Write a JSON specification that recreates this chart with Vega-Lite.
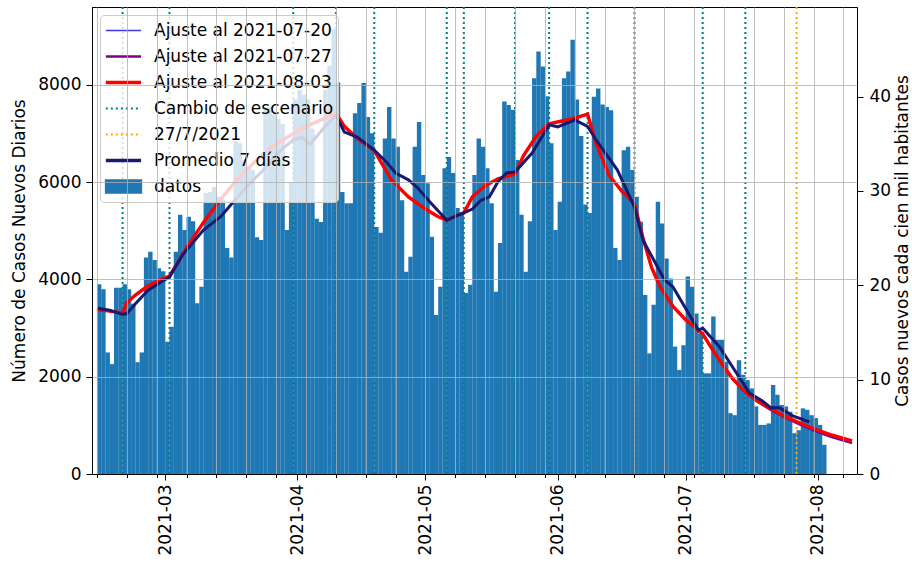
{
  "$schema": "https://vega.github.io/schema/vega-lite/v6.json",
  "width": 765,
  "height": 467,
  "autosize": {"type": "none"},
  "padding": {"left": 92, "top": 7, "right": 55, "bottom": 88},
  "background": "white",
  "config": {
    "font": "DejaVu Sans",
    "view": {"stroke": "#000000", "strokeWidth": 1},
    "axis": {
      "labelFont": "DejaVu Sans", "titleFont": "DejaVu Sans",
      "labelFontSize": 17, "titleFontSize": 17,
      "labelColor": "#000000", "titleColor": "#000000", "titleFontWeight": "normal",
      "domainColor": "#000000", "tickColor": "#000000",
      "gridColor": "#b0b0b0", "gridWidth": 0.8
    },
    "legend": {
      "orient": "none", "legendX": 8, "legendY": 8,
      "fillColor": "rgba(255,255,255,0.8)", "strokeColor": "#cccccc", "cornerRadius": 4,
      "padding": 4.5, "labelFont": "DejaVu Sans", "labelFontSize": 17, "labelColor": "#000000",
      "symbolSize": 484, "clipHeight": 22, "rowPadding": 4, "labelOffset": 32.5, "labelLimit": 400
    }
  },
  "datasets": {
    "barras": [
      {"fecha":"2021-02-13","casos":3900},{"fecha":"2021-02-14","casos":3800},{"fecha":"2021-02-15","casos":2500},{"fecha":"2021-02-16","casos":2260},{"fecha":"2021-02-17","casos":3830},{"fecha":"2021-02-18","casos":3830},{"fecha":"2021-02-19","casos":3900},
      {"fecha":"2021-02-20","casos":3800},{"fecha":"2021-02-21","casos":3500},{"fecha":"2021-02-22","casos":2300},{"fecha":"2021-02-23","casos":2500},{"fecha":"2021-02-24","casos":4450},{"fecha":"2021-02-25","casos":4570},{"fecha":"2021-02-26","casos":4400},
      {"fecha":"2021-02-27","casos":4230},{"fecha":"2021-02-28","casos":4170},{"fecha":"2021-03-01","casos":2720},{"fecha":"2021-03-02","casos":3030},{"fecha":"2021-03-03","casos":4570},{"fecha":"2021-03-04","casos":5330},{"fecha":"2021-03-05","casos":5020},
      {"fecha":"2021-03-06","casos":5290},{"fecha":"2021-03-07","casos":5200},{"fecha":"2021-03-08","casos":3510},{"fecha":"2021-03-09","casos":3850},{"fecha":"2021-03-10","casos":5780},{"fecha":"2021-03-11","casos":5800},{"fecha":"2021-03-12","casos":5900},
      {"fecha":"2021-03-13","casos":5700},{"fecha":"2021-03-14","casos":5650},{"fecha":"2021-03-15","casos":4650},{"fecha":"2021-03-16","casos":4450},{"fecha":"2021-03-17","casos":6850},{"fecha":"2021-03-18","casos":6800},{"fecha":"2021-03-19","casos":6450},
      {"fecha":"2021-03-20","casos":6300},{"fecha":"2021-03-21","casos":6250},{"fecha":"2021-03-22","casos":4870},{"fecha":"2021-03-23","casos":4810},{"fecha":"2021-03-24","casos":7500},{"fecha":"2021-03-25","casos":7550},{"fecha":"2021-03-26","casos":7400},
      {"fecha":"2021-03-27","casos":7300},{"fecha":"2021-03-28","casos":7200},{"fecha":"2021-03-29","casos":5020},{"fecha":"2021-03-30","casos":6000},{"fecha":"2021-03-31","casos":7700},{"fecha":"2021-04-01","casos":7900},{"fecha":"2021-04-02","casos":7800},
      {"fecha":"2021-04-03","casos":7700},{"fecha":"2021-04-04","casos":7100},{"fecha":"2021-04-05","casos":5250},{"fecha":"2021-04-06","casos":5180},{"fecha":"2021-04-07","casos":7900},{"fecha":"2021-04-08","casos":8400},{"fecha":"2021-04-09","casos":9150},
      {"fecha":"2021-04-10","casos":8050},{"fecha":"2021-04-11","casos":5800},{"fecha":"2021-04-12","casos":5570},{"fecha":"2021-04-13","casos":5570},{"fecha":"2021-04-14","casos":7420},{"fecha":"2021-04-15","casos":7630},{"fecha":"2021-04-16","casos":8040},
      {"fecha":"2021-04-17","casos":7340},{"fecha":"2021-04-18","casos":7010},{"fecha":"2021-04-19","casos":5080},{"fecha":"2021-04-20","casos":4960},{"fecha":"2021-04-21","casos":6900},{"fecha":"2021-04-22","casos":7550},{"fecha":"2021-04-23","casos":6900},
      {"fecha":"2021-04-24","casos":6730},{"fecha":"2021-04-25","casos":5630},{"fecha":"2021-04-26","casos":4160},{"fecha":"2021-04-27","casos":4470},{"fecha":"2021-04-28","casos":6730},{"fecha":"2021-04-29","casos":7240},{"fecha":"2021-04-30","casos":6150},
      {"fecha":"2021-05-01","casos":5980},{"fecha":"2021-05-02","casos":4880},{"fecha":"2021-05-03","casos":3270},{"fecha":"2021-05-04","casos":3850},{"fecha":"2021-05-05","casos":6290},{"fecha":"2021-05-06","casos":6520},{"fecha":"2021-05-07","casos":6190},
      {"fecha":"2021-05-08","casos":5470},{"fecha":"2021-05-09","casos":5390},{"fecha":"2021-05-10","casos":3720},{"fecha":"2021-05-11","casos":3890},{"fecha":"2021-05-12","casos":6150},{"fecha":"2021-05-13","casos":6900},{"fecha":"2021-05-14","casos":6730},
      {"fecha":"2021-05-15","casos":6290},{"fecha":"2021-05-16","casos":5570},{"fecha":"2021-05-17","casos":3750},{"fecha":"2021-05-18","casos":4750},{"fecha":"2021-05-19","casos":7660},{"fecha":"2021-05-20","casos":7590},{"fecha":"2021-05-21","casos":7490},
      {"fecha":"2021-05-22","casos":6460},{"fecha":"2021-05-23","casos":5330},{"fecha":"2021-05-24","casos":4160},{"fecha":"2021-05-25","casos":5200},{"fecha":"2021-05-26","casos":8140},{"fecha":"2021-05-27","casos":8690},{"fecha":"2021-05-28","casos":8380},
      {"fecha":"2021-05-29","casos":7770},{"fecha":"2021-05-30","casos":6800},{"fecha":"2021-05-31","casos":5020},{"fecha":"2021-06-01","casos":5600},{"fecha":"2021-06-02","casos":8140},{"fecha":"2021-06-03","casos":8280},{"fecha":"2021-06-04","casos":8930},
      {"fecha":"2021-06-05","casos":7700},{"fecha":"2021-06-06","casos":6950},{"fecha":"2021-06-07","casos":5540},{"fecha":"2021-06-08","casos":5370},{"fecha":"2021-06-09","casos":7760},{"fecha":"2021-06-10","casos":7930},{"fecha":"2021-06-11","casos":7600},
      {"fecha":"2021-06-12","casos":7550},{"fecha":"2021-06-13","casos":7480},{"fecha":"2021-06-14","casos":4650},{"fecha":"2021-06-15","casos":4400},{"fecha":"2021-06-16","casos":6660},{"fecha":"2021-06-17","casos":6730},{"fecha":"2021-06-18","casos":6250},
      {"fecha":"2021-06-19","casos":5700},{"fecha":"2021-06-20","casos":5190},{"fecha":"2021-06-21","casos":3680},{"fecha":"2021-06-22","casos":2480},{"fecha":"2021-06-23","casos":3480},{"fecha":"2021-06-24","casos":5600},{"fecha":"2021-06-25","casos":5150},
      {"fecha":"2021-06-26","casos":4430},{"fecha":"2021-06-27","casos":4020},{"fecha":"2021-06-28","casos":2620},{"fecha":"2021-06-29","casos":2140},{"fecha":"2021-06-30","casos":2650},{"fecha":"2021-07-01","casos":4060},{"fecha":"2021-07-02","casos":3850},
      {"fecha":"2021-07-03","casos":3300},{"fecha":"2021-07-04","casos":2890},{"fecha":"2021-07-05","casos":2070},{"fecha":"2021-07-06","casos":2070},{"fecha":"2021-07-07","casos":3240},{"fecha":"2021-07-08","casos":2760},{"fecha":"2021-07-09","casos":2760},
      {"fecha":"2021-07-10","casos":2310},{"fecha":"2021-07-11","casos":1250},{"fecha":"2021-07-12","casos":1210},{"fecha":"2021-07-13","casos":2340},{"fecha":"2021-07-14","casos":2040},{"fecha":"2021-07-15","casos":1930},{"fecha":"2021-07-16","casos":1760},
      {"fecha":"2021-07-17","casos":1390},{"fecha":"2021-07-18","casos":1010},{"fecha":"2021-07-19","casos":1010},{"fecha":"2021-07-20","casos":1040},{"fecha":"2021-07-21","casos":1830},{"fecha":"2021-07-22","casos":1630},{"fecha":"2021-07-23","casos":1420},
      {"fecha":"2021-07-24","casos":1390},{"fecha":"2021-07-25","casos":1280},{"fecha":"2021-07-26","casos":840},{"fecha":"2021-07-27","casos":900},{"fecha":"2021-07-28","casos":1350},{"fecha":"2021-07-29","casos":1320},{"fecha":"2021-07-30","casos":1210},
      {"fecha":"2021-07-31","casos":1150},{"fecha":"2021-08-01","casos":1010},{"fecha":"2021-08-02","casos":600}
    ],
    "cambios": [
      {"fecha":"2021-02-19","serie":"Cambio de escenario"},{"fecha":"2021-03-02","serie":"Cambio de escenario"},{"fecha":"2021-03-31","serie":"Cambio de escenario"},
      {"fecha":"2021-04-10","serie":"Cambio de escenario"},{"fecha":"2021-04-19","serie":"Cambio de escenario"},{"fecha":"2021-05-06","serie":"Cambio de escenario"},
      {"fecha":"2021-05-10","serie":"Cambio de escenario"},{"fecha":"2021-05-22","serie":"Cambio de escenario"},{"fecha":"2021-05-30","serie":"Cambio de escenario"},
      {"fecha":"2021-06-08","serie":"Cambio de escenario"},{"fecha":"2021-06-19","serie":"Cambio de escenario"},{"fecha":"2021-07-05","serie":"Cambio de escenario"},
      {"fecha":"2021-07-15","serie":"Cambio de escenario"},{"fecha":"2021-07-27","serie":"27/7/2021"}
    ],
    "promedio": [
      {"fecha":"2021-02-13","valor":3410},{"fecha":"2021-02-16","valor":3370},{"fecha":"2021-02-19","valor":3280},{"fecha":"2021-02-20","valor":3300},{"fecha":"2021-02-22","valor":3500},
      {"fecha":"2021-02-25","valor":3780},{"fecha":"2021-02-28","valor":3950},{"fecha":"2021-03-02","valor":4050},{"fecha":"2021-03-05","valor":4500},{"fecha":"2021-03-10","valor":5020},
      {"fecha":"2021-03-14","valor":5290},{"fecha":"2021-03-17","valor":5600},{"fecha":"2021-03-20","valor":5900},{"fecha":"2021-03-24","valor":6250},{"fecha":"2021-03-28","valor":6650},
      {"fecha":"2021-03-31","valor":6870},{"fecha":"2021-04-02","valor":6920},{"fecha":"2021-04-04","valor":6780},{"fecha":"2021-04-07","valor":7100},{"fecha":"2021-04-10","valor":7380},
      {"fecha":"2021-04-12","valor":7030},{"fecha":"2021-04-15","valor":6930},{"fecha":"2021-04-19","valor":6660},{"fecha":"2021-04-22","valor":6400},{"fecha":"2021-04-24","valor":6190},
      {"fecha":"2021-04-27","valor":6050},{"fecha":"2021-04-29","valor":5900},{"fecha":"2021-05-02","valor":5600},{"fecha":"2021-05-06","valor":5220},{"fecha":"2021-05-08","valor":5300},
      {"fecha":"2021-05-10","valor":5370},{"fecha":"2021-05-12","valor":5450},{"fecha":"2021-05-14","valor":5630},{"fecha":"2021-05-16","valor":5700},{"fecha":"2021-05-18","valor":6010},
      {"fecha":"2021-05-20","valor":6190},{"fecha":"2021-05-22","valor":6210},{"fecha":"2021-05-26","valor":6600},{"fecha":"2021-05-30","valor":7180},{"fecha":"2021-06-01","valor":7140},
      {"fecha":"2021-06-05","valor":7280},{"fecha":"2021-06-08","valor":7150},{"fecha":"2021-06-10","valor":6870},{"fecha":"2021-06-15","valor":6250},{"fecha":"2021-06-19","valor":5490},
      {"fecha":"2021-06-21","valor":4810},{"fecha":"2021-06-26","valor":4000},{"fecha":"2021-06-28","valor":3850},{"fecha":"2021-07-04","valor":2960},{"fecha":"2021-07-05","valor":3000},
      {"fecha":"2021-07-09","valor":2610},{"fecha":"2021-07-12","valor":2200},{"fecha":"2021-07-16","valor":1660},{"fecha":"2021-07-19","valor":1500},{"fecha":"2021-07-21","valor":1360},
      {"fecha":"2021-07-23","valor":1360},{"fecha":"2021-07-26","valor":1200},{"fecha":"2021-07-30","valor":1070}
    ],
    "ajustes": [
      {"serie":"Ajuste al 2021-07-20","fecha":"2021-02-13","valor":3380},{"serie":"Ajuste al 2021-07-20","fecha":"2021-02-16","valor":3350},{"serie":"Ajuste al 2021-07-20","fecha":"2021-02-19","valor":3310},{"serie":"Ajuste al 2021-07-20","fecha":"2021-02-20","valor":3520},
      {"serie":"Ajuste al 2021-07-20","fecha":"2021-02-22","valor":3680},{"serie":"Ajuste al 2021-07-20","fecha":"2021-02-25","valor":3870},{"serie":"Ajuste al 2021-07-20","fecha":"2021-02-28","valor":4000},{"serie":"Ajuste al 2021-07-20","fecha":"2021-03-02","valor":4070},
      {"serie":"Ajuste al 2021-07-20","fecha":"2021-03-06","valor":4650},{"serie":"Ajuste al 2021-07-20","fecha":"2021-03-10","valor":5180},{"serie":"Ajuste al 2021-07-20","fecha":"2021-03-14","valor":5650},{"serie":"Ajuste al 2021-07-20","fecha":"2021-03-18","valor":6070},
      {"serie":"Ajuste al 2021-07-20","fecha":"2021-03-22","valor":6420},{"serie":"Ajuste al 2021-07-20","fecha":"2021-03-26","valor":6730},{"serie":"Ajuste al 2021-07-20","fecha":"2021-03-31","valor":7000},{"serie":"Ajuste al 2021-07-20","fecha":"2021-04-03","valor":7150},
      {"serie":"Ajuste al 2021-07-20","fecha":"2021-04-07","valor":7300},{"serie":"Ajuste al 2021-07-20","fecha":"2021-04-10","valor":7420},{"serie":"Ajuste al 2021-07-20","fecha":"2021-04-12","valor":7150},{"serie":"Ajuste al 2021-07-20","fecha":"2021-04-15","valor":6900},
      {"serie":"Ajuste al 2021-07-20","fecha":"2021-04-19","valor":6650},{"serie":"Ajuste al 2021-07-20","fecha":"2021-04-23","valor":6050},{"serie":"Ajuste al 2021-07-20","fecha":"2021-04-27","valor":5700},{"serie":"Ajuste al 2021-07-20","fecha":"2021-05-01","valor":5450},
      {"serie":"Ajuste al 2021-07-20","fecha":"2021-05-04","valor":5290},{"serie":"Ajuste al 2021-07-20","fecha":"2021-05-06","valor":5220},{"serie":"Ajuste al 2021-07-20","fecha":"2021-05-08","valor":5300},{"serie":"Ajuste al 2021-07-20","fecha":"2021-05-10","valor":5370},
      {"serie":"Ajuste al 2021-07-20","fecha":"2021-05-12","valor":5700},{"serie":"Ajuste al 2021-07-20","fecha":"2021-05-15","valor":5930},{"serie":"Ajuste al 2021-07-20","fecha":"2021-05-18","valor":6070},{"serie":"Ajuste al 2021-07-20","fecha":"2021-05-22","valor":6170},
      {"serie":"Ajuste al 2021-07-20","fecha":"2021-05-24","valor":6550},{"serie":"Ajuste al 2021-07-20","fecha":"2021-05-27","valor":6950},{"serie":"Ajuste al 2021-07-20","fecha":"2021-05-30","valor":7200},{"serie":"Ajuste al 2021-07-20","fecha":"2021-06-02","valor":7260},
      {"serie":"Ajuste al 2021-07-20","fecha":"2021-06-05","valor":7320},{"serie":"Ajuste al 2021-07-20","fecha":"2021-06-08","valor":7400},{"serie":"Ajuste al 2021-07-20","fecha":"2021-06-10","valor":6800},{"serie":"Ajuste al 2021-07-20","fecha":"2021-06-13","valor":6150},
      {"serie":"Ajuste al 2021-07-20","fecha":"2021-06-16","valor":5820},{"serie":"Ajuste al 2021-07-20","fecha":"2021-06-19","valor":5560},{"serie":"Ajuste al 2021-07-20","fecha":"2021-06-21","valor":4850},{"serie":"Ajuste al 2021-07-20","fecha":"2021-06-23","valor":4250},
      {"serie":"Ajuste al 2021-07-20","fecha":"2021-06-25","valor":3850},{"serie":"Ajuste al 2021-07-20","fecha":"2021-06-28","valor":3450},{"serie":"Ajuste al 2021-07-20","fecha":"2021-07-01","valor":3170},{"serie":"Ajuste al 2021-07-20","fecha":"2021-07-05","valor":2880},
      {"serie":"Ajuste al 2021-07-20","fecha":"2021-07-07","valor":2600},{"serie":"Ajuste al 2021-07-20","fecha":"2021-07-09","valor":2330},{"serie":"Ajuste al 2021-07-20","fecha":"2021-07-12","valor":1960},{"serie":"Ajuste al 2021-07-20","fecha":"2021-07-15","valor":1680},
      {"serie":"Ajuste al 2021-07-20","fecha":"2021-07-18","valor":1470},{"serie":"Ajuste al 2021-07-20","fecha":"2021-07-21","valor":1305},{"serie":"Ajuste al 2021-07-20","fecha":"2021-07-24","valor":1165},{"serie":"Ajuste al 2021-07-20","fecha":"2021-07-27","valor":1035},
      {"serie":"Ajuste al 2021-07-20","fecha":"2021-07-31","valor":880},{"serie":"Ajuste al 2021-07-20","fecha":"2021-08-04","valor":755},{"serie":"Ajuste al 2021-07-20","fecha":"2021-08-09","valor":625},

      {"serie":"Ajuste al 2021-07-27","fecha":"2021-02-13","valor":3380},{"serie":"Ajuste al 2021-07-27","fecha":"2021-02-16","valor":3350},{"serie":"Ajuste al 2021-07-27","fecha":"2021-02-19","valor":3310},{"serie":"Ajuste al 2021-07-27","fecha":"2021-02-20","valor":3520},
      {"serie":"Ajuste al 2021-07-27","fecha":"2021-02-22","valor":3680},{"serie":"Ajuste al 2021-07-27","fecha":"2021-02-25","valor":3870},{"serie":"Ajuste al 2021-07-27","fecha":"2021-02-28","valor":4000},{"serie":"Ajuste al 2021-07-27","fecha":"2021-03-02","valor":4070},
      {"serie":"Ajuste al 2021-07-27","fecha":"2021-03-06","valor":4650},{"serie":"Ajuste al 2021-07-27","fecha":"2021-03-10","valor":5180},{"serie":"Ajuste al 2021-07-27","fecha":"2021-03-14","valor":5650},{"serie":"Ajuste al 2021-07-27","fecha":"2021-03-18","valor":6070},
      {"serie":"Ajuste al 2021-07-27","fecha":"2021-03-22","valor":6420},{"serie":"Ajuste al 2021-07-27","fecha":"2021-03-26","valor":6730},{"serie":"Ajuste al 2021-07-27","fecha":"2021-03-31","valor":7000},{"serie":"Ajuste al 2021-07-27","fecha":"2021-04-03","valor":7150},
      {"serie":"Ajuste al 2021-07-27","fecha":"2021-04-07","valor":7300},{"serie":"Ajuste al 2021-07-27","fecha":"2021-04-10","valor":7420},{"serie":"Ajuste al 2021-07-27","fecha":"2021-04-12","valor":7150},{"serie":"Ajuste al 2021-07-27","fecha":"2021-04-15","valor":6900},
      {"serie":"Ajuste al 2021-07-27","fecha":"2021-04-19","valor":6650},{"serie":"Ajuste al 2021-07-27","fecha":"2021-04-23","valor":6050},{"serie":"Ajuste al 2021-07-27","fecha":"2021-04-27","valor":5700},{"serie":"Ajuste al 2021-07-27","fecha":"2021-05-01","valor":5450},
      {"serie":"Ajuste al 2021-07-27","fecha":"2021-05-04","valor":5290},{"serie":"Ajuste al 2021-07-27","fecha":"2021-05-06","valor":5220},{"serie":"Ajuste al 2021-07-27","fecha":"2021-05-08","valor":5300},{"serie":"Ajuste al 2021-07-27","fecha":"2021-05-10","valor":5370},
      {"serie":"Ajuste al 2021-07-27","fecha":"2021-05-12","valor":5700},{"serie":"Ajuste al 2021-07-27","fecha":"2021-05-15","valor":5930},{"serie":"Ajuste al 2021-07-27","fecha":"2021-05-18","valor":6070},{"serie":"Ajuste al 2021-07-27","fecha":"2021-05-22","valor":6170},
      {"serie":"Ajuste al 2021-07-27","fecha":"2021-05-24","valor":6550},{"serie":"Ajuste al 2021-07-27","fecha":"2021-05-27","valor":6950},{"serie":"Ajuste al 2021-07-27","fecha":"2021-05-30","valor":7200},{"serie":"Ajuste al 2021-07-27","fecha":"2021-06-02","valor":7260},
      {"serie":"Ajuste al 2021-07-27","fecha":"2021-06-05","valor":7320},{"serie":"Ajuste al 2021-07-27","fecha":"2021-06-08","valor":7400},{"serie":"Ajuste al 2021-07-27","fecha":"2021-06-10","valor":6800},{"serie":"Ajuste al 2021-07-27","fecha":"2021-06-13","valor":6150},
      {"serie":"Ajuste al 2021-07-27","fecha":"2021-06-16","valor":5820},{"serie":"Ajuste al 2021-07-27","fecha":"2021-06-19","valor":5560},{"serie":"Ajuste al 2021-07-27","fecha":"2021-06-21","valor":4850},{"serie":"Ajuste al 2021-07-27","fecha":"2021-06-23","valor":4250},
      {"serie":"Ajuste al 2021-07-27","fecha":"2021-06-25","valor":3850},{"serie":"Ajuste al 2021-07-27","fecha":"2021-06-28","valor":3450},{"serie":"Ajuste al 2021-07-27","fecha":"2021-07-01","valor":3170},{"serie":"Ajuste al 2021-07-27","fecha":"2021-07-05","valor":2880},
      {"serie":"Ajuste al 2021-07-27","fecha":"2021-07-07","valor":2600},{"serie":"Ajuste al 2021-07-27","fecha":"2021-07-09","valor":2330},{"serie":"Ajuste al 2021-07-27","fecha":"2021-07-12","valor":1960},{"serie":"Ajuste al 2021-07-27","fecha":"2021-07-15","valor":1680},
      {"serie":"Ajuste al 2021-07-27","fecha":"2021-07-18","valor":1480},{"serie":"Ajuste al 2021-07-27","fecha":"2021-07-21","valor":1320},{"serie":"Ajuste al 2021-07-27","fecha":"2021-07-24","valor":1180},{"serie":"Ajuste al 2021-07-27","fecha":"2021-07-27","valor":1055},
      {"serie":"Ajuste al 2021-07-27","fecha":"2021-07-31","valor":900},{"serie":"Ajuste al 2021-07-27","fecha":"2021-08-04","valor":775},{"serie":"Ajuste al 2021-07-27","fecha":"2021-08-09","valor":645},

      {"serie":"Ajuste al 2021-08-03","fecha":"2021-02-13","valor":3380},{"serie":"Ajuste al 2021-08-03","fecha":"2021-02-16","valor":3350},{"serie":"Ajuste al 2021-08-03","fecha":"2021-02-19","valor":3310},{"serie":"Ajuste al 2021-08-03","fecha":"2021-02-20","valor":3520},
      {"serie":"Ajuste al 2021-08-03","fecha":"2021-02-22","valor":3680},{"serie":"Ajuste al 2021-08-03","fecha":"2021-02-25","valor":3870},{"serie":"Ajuste al 2021-08-03","fecha":"2021-02-28","valor":4000},{"serie":"Ajuste al 2021-08-03","fecha":"2021-03-02","valor":4070},
      {"serie":"Ajuste al 2021-08-03","fecha":"2021-03-06","valor":4650},{"serie":"Ajuste al 2021-08-03","fecha":"2021-03-10","valor":5180},{"serie":"Ajuste al 2021-08-03","fecha":"2021-03-14","valor":5650},{"serie":"Ajuste al 2021-08-03","fecha":"2021-03-18","valor":6070},
      {"serie":"Ajuste al 2021-08-03","fecha":"2021-03-22","valor":6420},{"serie":"Ajuste al 2021-08-03","fecha":"2021-03-26","valor":6730},{"serie":"Ajuste al 2021-08-03","fecha":"2021-03-31","valor":7000},{"serie":"Ajuste al 2021-08-03","fecha":"2021-04-03","valor":7150},
      {"serie":"Ajuste al 2021-08-03","fecha":"2021-04-07","valor":7300},{"serie":"Ajuste al 2021-08-03","fecha":"2021-04-10","valor":7420},{"serie":"Ajuste al 2021-08-03","fecha":"2021-04-12","valor":7150},{"serie":"Ajuste al 2021-08-03","fecha":"2021-04-15","valor":6900},
      {"serie":"Ajuste al 2021-08-03","fecha":"2021-04-19","valor":6650},{"serie":"Ajuste al 2021-08-03","fecha":"2021-04-23","valor":6050},{"serie":"Ajuste al 2021-08-03","fecha":"2021-04-27","valor":5700},{"serie":"Ajuste al 2021-08-03","fecha":"2021-05-01","valor":5450},
      {"serie":"Ajuste al 2021-08-03","fecha":"2021-05-04","valor":5290},{"serie":"Ajuste al 2021-08-03","fecha":"2021-05-06","valor":5220},{"serie":"Ajuste al 2021-08-03","fecha":"2021-05-08","valor":5300},{"serie":"Ajuste al 2021-08-03","fecha":"2021-05-10","valor":5370},
      {"serie":"Ajuste al 2021-08-03","fecha":"2021-05-12","valor":5700},{"serie":"Ajuste al 2021-08-03","fecha":"2021-05-15","valor":5930},{"serie":"Ajuste al 2021-08-03","fecha":"2021-05-18","valor":6070},{"serie":"Ajuste al 2021-08-03","fecha":"2021-05-22","valor":6170},
      {"serie":"Ajuste al 2021-08-03","fecha":"2021-05-24","valor":6550},{"serie":"Ajuste al 2021-08-03","fecha":"2021-05-27","valor":6950},{"serie":"Ajuste al 2021-08-03","fecha":"2021-05-30","valor":7200},{"serie":"Ajuste al 2021-08-03","fecha":"2021-06-02","valor":7260},
      {"serie":"Ajuste al 2021-08-03","fecha":"2021-06-05","valor":7320},{"serie":"Ajuste al 2021-08-03","fecha":"2021-06-08","valor":7400},{"serie":"Ajuste al 2021-08-03","fecha":"2021-06-10","valor":6800},{"serie":"Ajuste al 2021-08-03","fecha":"2021-06-13","valor":6150},
      {"serie":"Ajuste al 2021-08-03","fecha":"2021-06-16","valor":5820},{"serie":"Ajuste al 2021-08-03","fecha":"2021-06-19","valor":5560},{"serie":"Ajuste al 2021-08-03","fecha":"2021-06-21","valor":4850},{"serie":"Ajuste al 2021-08-03","fecha":"2021-06-23","valor":4250},
      {"serie":"Ajuste al 2021-08-03","fecha":"2021-06-25","valor":3850},{"serie":"Ajuste al 2021-08-03","fecha":"2021-06-28","valor":3450},{"serie":"Ajuste al 2021-08-03","fecha":"2021-07-01","valor":3170},{"serie":"Ajuste al 2021-08-03","fecha":"2021-07-05","valor":2880},
      {"serie":"Ajuste al 2021-08-03","fecha":"2021-07-07","valor":2600},{"serie":"Ajuste al 2021-08-03","fecha":"2021-07-09","valor":2330},{"serie":"Ajuste al 2021-08-03","fecha":"2021-07-12","valor":1960},{"serie":"Ajuste al 2021-08-03","fecha":"2021-07-15","valor":1680},
      {"serie":"Ajuste al 2021-08-03","fecha":"2021-07-18","valor":1490},{"serie":"Ajuste al 2021-08-03","fecha":"2021-07-21","valor":1340},{"serie":"Ajuste al 2021-08-03","fecha":"2021-07-24","valor":1200},{"serie":"Ajuste al 2021-08-03","fecha":"2021-07-27","valor":1080},
      {"serie":"Ajuste al 2021-08-03","fecha":"2021-07-31","valor":930},{"serie":"Ajuste al 2021-08-03","fecha":"2021-08-04","valor":810},{"serie":"Ajuste al 2021-08-03","fecha":"2021-08-09","valor":680}
    ]
  },
  "layer": [
    {
      "layer": [
        {
          "data": {"name": "barras"},
          "mark": {"type": "bar", "width": 4.4, "xOffset": 2.16, "clip": true},
          "encoding": {
            "x": {"field": "fecha", "type": "temporal",
              "scale": {"type": "utc", "domain": [{"year":2021,"month":2,"date":13,"utc":true},{"year":2021,"month":8,"date":9,"utc":true}]},
              "axis": {"title": null, "grid": true, "zindex": 1, "labelAngle": 270, "labelPadding": 4, "labelOverlap": false, "labelFlush": false,
                "values": [{"year":2021,"month":2,"date":13,"utc":true},{"year":2021,"month":2,"date":20,"utc":true},{"year":2021,"month":2,"date":27,"utc":true},{"year":2021,"month":3,"date":1,"utc":true},{"year":2021,"month":3,"date":6,"utc":true},{"year":2021,"month":3,"date":13,"utc":true},{"year":2021,"month":3,"date":20,"utc":true},{"year":2021,"month":3,"date":27,"utc":true},{"year":2021,"month":4,"date":1,"utc":true},{"year":2021,"month":4,"date":3,"utc":true},{"year":2021,"month":4,"date":10,"utc":true},{"year":2021,"month":4,"date":17,"utc":true},{"year":2021,"month":4,"date":24,"utc":true},{"year":2021,"month":5,"date":1,"utc":true},{"year":2021,"month":5,"date":8,"utc":true},{"year":2021,"month":5,"date":15,"utc":true},{"year":2021,"month":5,"date":22,"utc":true},{"year":2021,"month":5,"date":29,"utc":true},{"year":2021,"month":6,"date":1,"utc":true},{"year":2021,"month":6,"date":5,"utc":true},{"year":2021,"month":6,"date":12,"utc":true},{"year":2021,"month":6,"date":19,"utc":true},{"year":2021,"month":6,"date":26,"utc":true},{"year":2021,"month":7,"date":1,"utc":true},{"year":2021,"month":7,"date":3,"utc":true},{"year":2021,"month":7,"date":10,"utc":true},{"year":2021,"month":7,"date":17,"utc":true},{"year":2021,"month":7,"date":24,"utc":true},{"year":2021,"month":7,"date":31,"utc":true},{"year":2021,"month":8,"date":1,"utc":true},{"year":2021,"month":8,"date":7,"utc":true}],
                "labelExpr": "utcdate(datum.value) === 1 ? utcFormat(datum.value, '%Y-%m') : ''",
                "tickSize": {"condition": {"test": "utcdate(datum.value) === 1", "value": 6}, "value": 3.5},
                "gridOpacity": {"condition": {"test": "utcday(datum.value) !== 6", "value": 0}, "value": 1}
              }},
            "y": {"field": "casos", "type": "quantitative", "scale": {"domain": [0, 9604], "nice": false},
              "axis": {"title": "Número de Casos Nuevos Diarios", "values": [0,2000,4000,6000,8000], "format": "d", "grid": true, "zindex": 1, "tickSize": 6, "labelPadding": 5, "titlePadding": 9}},
            "color": {"datum": "datos", "type": "nominal",
              "scale": {"domain": ["Ajuste al 2021-07-20","Ajuste al 2021-07-27","Ajuste al 2021-08-03","Cambio de escenario","27/7/2021","Promedio 7 días","datos"],
                        "range": ["#3a3ae6","#800080","#ff0000","#008080","#ffa500","#191970","#1f77b4"]},
              "legend": {"title": null, "orient": "none", "legendX": 8, "legendY": 8,
                "encode": {"symbols": {"update": {
                  "shape": {"signal": "datum.value === 'datos' ? 'M-0.65,-0.55H2.55V0.55H-0.65Z' : 'M-0.65,0H2.55'"},
                  "fill": {"signal": "datum.value === 'datos' ? '#1f77b4' : 'transparent'"},
                  "stroke": {"signal": "datum.value === 'datos' ? 'transparent' : scale('color', datum.value)"},
                  "strokeWidth": {"signal": "datum.value === 'Ajuste al 2021-08-03' ? 3.6 : datum.value === 'Promedio 7 días' ? 3.4 : datum.value === 'Ajuste al 2021-07-27' ? 2.4 : datum.value === 'Ajuste al 2021-07-20' ? 1.4 : 2.2"},
                  "strokeDash": {"signal": "(datum.value === 'Cambio de escenario' || datum.value === '27/7/2021') ? [2, 3] : []"},
                  "opacity": {"value": 1}
                }}}}}
          }
        },
        {
          "data": {"name": "cambios"},
          "mark": {"type": "rule", "strokeDash": [2, 3], "strokeWidth": 2, "clip": true},
          "encoding": {
            "x": {"field": "fecha", "type": "temporal",
              "scale": {"type": "utc", "domain": [{"year":2021,"month":2,"date":13,"utc":true},{"year":2021,"month":8,"date":9,"utc":true}]},
              "axis": {"title": null, "grid": true, "zindex": 1, "labelAngle": 270, "labelPadding": 4, "labelOverlap": false, "labelFlush": false,
                "values": [{"year":2021,"month":2,"date":13,"utc":true},{"year":2021,"month":2,"date":20,"utc":true},{"year":2021,"month":2,"date":27,"utc":true},{"year":2021,"month":3,"date":1,"utc":true},{"year":2021,"month":3,"date":6,"utc":true},{"year":2021,"month":3,"date":13,"utc":true},{"year":2021,"month":3,"date":20,"utc":true},{"year":2021,"month":3,"date":27,"utc":true},{"year":2021,"month":4,"date":1,"utc":true},{"year":2021,"month":4,"date":3,"utc":true},{"year":2021,"month":4,"date":10,"utc":true},{"year":2021,"month":4,"date":17,"utc":true},{"year":2021,"month":4,"date":24,"utc":true},{"year":2021,"month":5,"date":1,"utc":true},{"year":2021,"month":5,"date":8,"utc":true},{"year":2021,"month":5,"date":15,"utc":true},{"year":2021,"month":5,"date":22,"utc":true},{"year":2021,"month":5,"date":29,"utc":true},{"year":2021,"month":6,"date":1,"utc":true},{"year":2021,"month":6,"date":5,"utc":true},{"year":2021,"month":6,"date":12,"utc":true},{"year":2021,"month":6,"date":19,"utc":true},{"year":2021,"month":6,"date":26,"utc":true},{"year":2021,"month":7,"date":1,"utc":true},{"year":2021,"month":7,"date":3,"utc":true},{"year":2021,"month":7,"date":10,"utc":true},{"year":2021,"month":7,"date":17,"utc":true},{"year":2021,"month":7,"date":24,"utc":true},{"year":2021,"month":7,"date":31,"utc":true},{"year":2021,"month":8,"date":1,"utc":true},{"year":2021,"month":8,"date":7,"utc":true}],
                "labelExpr": "utcdate(datum.value) === 1 ? utcFormat(datum.value, '%Y-%m') : ''",
                "tickSize": {"condition": {"test": "utcdate(datum.value) === 1", "value": 6}, "value": 3.5},
                "gridOpacity": {"condition": {"test": "utcday(datum.value) !== 6", "value": 0}, "value": 1}
              }},
            "color": {"field": "serie", "type": "nominal",
              "scale": {"domain": ["Ajuste al 2021-07-20","Ajuste al 2021-07-27","Ajuste al 2021-08-03","Cambio de escenario","27/7/2021","Promedio 7 días","datos"],
                        "range": ["#3a3ae6","#800080","#ff0000","#008080","#ffa500","#191970","#1f77b4"]},
              "legend": {"title": null, "orient": "none", "legendX": 8, "legendY": 8,
                "encode": {"symbols": {"update": {
                  "shape": {"signal": "datum.value === 'datos' ? 'M-0.65,-0.55H2.55V0.55H-0.65Z' : 'M-0.65,0H2.55'"},
                  "fill": {"signal": "datum.value === 'datos' ? '#1f77b4' : 'transparent'"},
                  "stroke": {"signal": "datum.value === 'datos' ? 'transparent' : scale('color', datum.value)"},
                  "strokeWidth": {"signal": "datum.value === 'Ajuste al 2021-08-03' ? 3.6 : datum.value === 'Promedio 7 días' ? 3.4 : datum.value === 'Ajuste al 2021-07-27' ? 2.4 : datum.value === 'Ajuste al 2021-07-20' ? 1.4 : 2.2"},
                  "strokeDash": {"signal": "(datum.value === 'Cambio de escenario' || datum.value === '27/7/2021') ? [2, 3] : []"},
                  "opacity": {"value": 1}
                }}}}}
          }
        },
        {
          "data": {"name": "ajustes"},
          "transform": [{"filter": "datum.serie === 'Ajuste al 2021-07-20'"}],
          "mark": {"type": "line", "strokeWidth": 1.4, "clip": true},
          "encoding": {
            "x": {"field": "fecha", "type": "temporal",
              "scale": {"type": "utc", "domain": [{"year":2021,"month":2,"date":13,"utc":true},{"year":2021,"month":8,"date":9,"utc":true}]},
              "axis": {"title": null, "grid": true, "zindex": 1, "labelAngle": 270, "labelPadding": 4, "labelOverlap": false, "labelFlush": false,
                "values": [{"year":2021,"month":2,"date":13,"utc":true},{"year":2021,"month":2,"date":20,"utc":true},{"year":2021,"month":2,"date":27,"utc":true},{"year":2021,"month":3,"date":1,"utc":true},{"year":2021,"month":3,"date":6,"utc":true},{"year":2021,"month":3,"date":13,"utc":true},{"year":2021,"month":3,"date":20,"utc":true},{"year":2021,"month":3,"date":27,"utc":true},{"year":2021,"month":4,"date":1,"utc":true},{"year":2021,"month":4,"date":3,"utc":true},{"year":2021,"month":4,"date":10,"utc":true},{"year":2021,"month":4,"date":17,"utc":true},{"year":2021,"month":4,"date":24,"utc":true},{"year":2021,"month":5,"date":1,"utc":true},{"year":2021,"month":5,"date":8,"utc":true},{"year":2021,"month":5,"date":15,"utc":true},{"year":2021,"month":5,"date":22,"utc":true},{"year":2021,"month":5,"date":29,"utc":true},{"year":2021,"month":6,"date":1,"utc":true},{"year":2021,"month":6,"date":5,"utc":true},{"year":2021,"month":6,"date":12,"utc":true},{"year":2021,"month":6,"date":19,"utc":true},{"year":2021,"month":6,"date":26,"utc":true},{"year":2021,"month":7,"date":1,"utc":true},{"year":2021,"month":7,"date":3,"utc":true},{"year":2021,"month":7,"date":10,"utc":true},{"year":2021,"month":7,"date":17,"utc":true},{"year":2021,"month":7,"date":24,"utc":true},{"year":2021,"month":7,"date":31,"utc":true},{"year":2021,"month":8,"date":1,"utc":true},{"year":2021,"month":8,"date":7,"utc":true}],
                "labelExpr": "utcdate(datum.value) === 1 ? utcFormat(datum.value, '%Y-%m') : ''",
                "tickSize": {"condition": {"test": "utcdate(datum.value) === 1", "value": 6}, "value": 3.5},
                "gridOpacity": {"condition": {"test": "utcday(datum.value) !== 6", "value": 0}, "value": 1}
              }},
            "y": {"field": "valor", "type": "quantitative", "scale": {"domain": [0, 9604], "nice": false},
              "axis": {"title": "Número de Casos Nuevos Diarios", "values": [0,2000,4000,6000,8000], "format": "d", "grid": true, "zindex": 1, "tickSize": 6, "labelPadding": 5, "titlePadding": 9}},
            "color": {"field": "serie", "type": "nominal",
              "scale": {"domain": ["Ajuste al 2021-07-20","Ajuste al 2021-07-27","Ajuste al 2021-08-03","Cambio de escenario","27/7/2021","Promedio 7 días","datos"],
                        "range": ["#3a3ae6","#800080","#ff0000","#008080","#ffa500","#191970","#1f77b4"]},
              "legend": {"title": null, "orient": "none", "legendX": 8, "legendY": 8,
                "encode": {"symbols": {"update": {
                  "shape": {"signal": "datum.value === 'datos' ? 'M-0.65,-0.55H2.55V0.55H-0.65Z' : 'M-0.65,0H2.55'"},
                  "fill": {"signal": "datum.value === 'datos' ? '#1f77b4' : 'transparent'"},
                  "stroke": {"signal": "datum.value === 'datos' ? 'transparent' : scale('color', datum.value)"},
                  "strokeWidth": {"signal": "datum.value === 'Ajuste al 2021-08-03' ? 3.6 : datum.value === 'Promedio 7 días' ? 3.4 : datum.value === 'Ajuste al 2021-07-27' ? 2.4 : datum.value === 'Ajuste al 2021-07-20' ? 1.4 : 2.2"},
                  "strokeDash": {"signal": "(datum.value === 'Cambio de escenario' || datum.value === '27/7/2021') ? [2, 3] : []"},
                  "opacity": {"value": 1}
                }}}}}
          }
        },
        {
          "data": {"name": "ajustes"},
          "transform": [{"filter": "datum.serie === 'Ajuste al 2021-07-27'"}],
          "mark": {"type": "line", "strokeWidth": 2.4, "clip": true},
          "encoding": {
            "x": {"field": "fecha", "type": "temporal",
              "scale": {"type": "utc", "domain": [{"year":2021,"month":2,"date":13,"utc":true},{"year":2021,"month":8,"date":9,"utc":true}]},
              "axis": {"title": null, "grid": true, "zindex": 1, "labelAngle": 270, "labelPadding": 4, "labelOverlap": false, "labelFlush": false,
                "values": [{"year":2021,"month":2,"date":13,"utc":true},{"year":2021,"month":2,"date":20,"utc":true},{"year":2021,"month":2,"date":27,"utc":true},{"year":2021,"month":3,"date":1,"utc":true},{"year":2021,"month":3,"date":6,"utc":true},{"year":2021,"month":3,"date":13,"utc":true},{"year":2021,"month":3,"date":20,"utc":true},{"year":2021,"month":3,"date":27,"utc":true},{"year":2021,"month":4,"date":1,"utc":true},{"year":2021,"month":4,"date":3,"utc":true},{"year":2021,"month":4,"date":10,"utc":true},{"year":2021,"month":4,"date":17,"utc":true},{"year":2021,"month":4,"date":24,"utc":true},{"year":2021,"month":5,"date":1,"utc":true},{"year":2021,"month":5,"date":8,"utc":true},{"year":2021,"month":5,"date":15,"utc":true},{"year":2021,"month":5,"date":22,"utc":true},{"year":2021,"month":5,"date":29,"utc":true},{"year":2021,"month":6,"date":1,"utc":true},{"year":2021,"month":6,"date":5,"utc":true},{"year":2021,"month":6,"date":12,"utc":true},{"year":2021,"month":6,"date":19,"utc":true},{"year":2021,"month":6,"date":26,"utc":true},{"year":2021,"month":7,"date":1,"utc":true},{"year":2021,"month":7,"date":3,"utc":true},{"year":2021,"month":7,"date":10,"utc":true},{"year":2021,"month":7,"date":17,"utc":true},{"year":2021,"month":7,"date":24,"utc":true},{"year":2021,"month":7,"date":31,"utc":true},{"year":2021,"month":8,"date":1,"utc":true},{"year":2021,"month":8,"date":7,"utc":true}],
                "labelExpr": "utcdate(datum.value) === 1 ? utcFormat(datum.value, '%Y-%m') : ''",
                "tickSize": {"condition": {"test": "utcdate(datum.value) === 1", "value": 6}, "value": 3.5},
                "gridOpacity": {"condition": {"test": "utcday(datum.value) !== 6", "value": 0}, "value": 1}
              }},
            "y": {"field": "valor", "type": "quantitative", "scale": {"domain": [0, 9604], "nice": false},
              "axis": {"title": "Número de Casos Nuevos Diarios", "values": [0,2000,4000,6000,8000], "format": "d", "grid": true, "zindex": 1, "tickSize": 6, "labelPadding": 5, "titlePadding": 9}},
            "color": {"field": "serie", "type": "nominal",
              "scale": {"domain": ["Ajuste al 2021-07-20","Ajuste al 2021-07-27","Ajuste al 2021-08-03","Cambio de escenario","27/7/2021","Promedio 7 días","datos"],
                        "range": ["#3a3ae6","#800080","#ff0000","#008080","#ffa500","#191970","#1f77b4"]},
              "legend": {"title": null, "orient": "none", "legendX": 8, "legendY": 8,
                "encode": {"symbols": {"update": {
                  "shape": {"signal": "datum.value === 'datos' ? 'M-0.65,-0.55H2.55V0.55H-0.65Z' : 'M-0.65,0H2.55'"},
                  "fill": {"signal": "datum.value === 'datos' ? '#1f77b4' : 'transparent'"},
                  "stroke": {"signal": "datum.value === 'datos' ? 'transparent' : scale('color', datum.value)"},
                  "strokeWidth": {"signal": "datum.value === 'Ajuste al 2021-08-03' ? 3.6 : datum.value === 'Promedio 7 días' ? 3.4 : datum.value === 'Ajuste al 2021-07-27' ? 2.4 : datum.value === 'Ajuste al 2021-07-20' ? 1.4 : 2.2"},
                  "strokeDash": {"signal": "(datum.value === 'Cambio de escenario' || datum.value === '27/7/2021') ? [2, 3] : []"},
                  "opacity": {"value": 1}
                }}}}}
          }
        },
        {
          "data": {"name": "ajustes"},
          "transform": [{"filter": "datum.serie === 'Ajuste al 2021-08-03'"}],
          "mark": {"type": "line", "strokeWidth": 3.4, "clip": true},
          "encoding": {
            "x": {"field": "fecha", "type": "temporal",
              "scale": {"type": "utc", "domain": [{"year":2021,"month":2,"date":13,"utc":true},{"year":2021,"month":8,"date":9,"utc":true}]},
              "axis": {"title": null, "grid": true, "zindex": 1, "labelAngle": 270, "labelPadding": 4, "labelOverlap": false, "labelFlush": false,
                "values": [{"year":2021,"month":2,"date":13,"utc":true},{"year":2021,"month":2,"date":20,"utc":true},{"year":2021,"month":2,"date":27,"utc":true},{"year":2021,"month":3,"date":1,"utc":true},{"year":2021,"month":3,"date":6,"utc":true},{"year":2021,"month":3,"date":13,"utc":true},{"year":2021,"month":3,"date":20,"utc":true},{"year":2021,"month":3,"date":27,"utc":true},{"year":2021,"month":4,"date":1,"utc":true},{"year":2021,"month":4,"date":3,"utc":true},{"year":2021,"month":4,"date":10,"utc":true},{"year":2021,"month":4,"date":17,"utc":true},{"year":2021,"month":4,"date":24,"utc":true},{"year":2021,"month":5,"date":1,"utc":true},{"year":2021,"month":5,"date":8,"utc":true},{"year":2021,"month":5,"date":15,"utc":true},{"year":2021,"month":5,"date":22,"utc":true},{"year":2021,"month":5,"date":29,"utc":true},{"year":2021,"month":6,"date":1,"utc":true},{"year":2021,"month":6,"date":5,"utc":true},{"year":2021,"month":6,"date":12,"utc":true},{"year":2021,"month":6,"date":19,"utc":true},{"year":2021,"month":6,"date":26,"utc":true},{"year":2021,"month":7,"date":1,"utc":true},{"year":2021,"month":7,"date":3,"utc":true},{"year":2021,"month":7,"date":10,"utc":true},{"year":2021,"month":7,"date":17,"utc":true},{"year":2021,"month":7,"date":24,"utc":true},{"year":2021,"month":7,"date":31,"utc":true},{"year":2021,"month":8,"date":1,"utc":true},{"year":2021,"month":8,"date":7,"utc":true}],
                "labelExpr": "utcdate(datum.value) === 1 ? utcFormat(datum.value, '%Y-%m') : ''",
                "tickSize": {"condition": {"test": "utcdate(datum.value) === 1", "value": 6}, "value": 3.5},
                "gridOpacity": {"condition": {"test": "utcday(datum.value) !== 6", "value": 0}, "value": 1}
              }},
            "y": {"field": "valor", "type": "quantitative", "scale": {"domain": [0, 9604], "nice": false},
              "axis": {"title": "Número de Casos Nuevos Diarios", "values": [0,2000,4000,6000,8000], "format": "d", "grid": true, "zindex": 1, "tickSize": 6, "labelPadding": 5, "titlePadding": 9}},
            "color": {"field": "serie", "type": "nominal",
              "scale": {"domain": ["Ajuste al 2021-07-20","Ajuste al 2021-07-27","Ajuste al 2021-08-03","Cambio de escenario","27/7/2021","Promedio 7 días","datos"],
                        "range": ["#3a3ae6","#800080","#ff0000","#008080","#ffa500","#191970","#1f77b4"]},
              "legend": {"title": null, "orient": "none", "legendX": 8, "legendY": 8,
                "encode": {"symbols": {"update": {
                  "shape": {"signal": "datum.value === 'datos' ? 'M-0.65,-0.55H2.55V0.55H-0.65Z' : 'M-0.65,0H2.55'"},
                  "fill": {"signal": "datum.value === 'datos' ? '#1f77b4' : 'transparent'"},
                  "stroke": {"signal": "datum.value === 'datos' ? 'transparent' : scale('color', datum.value)"},
                  "strokeWidth": {"signal": "datum.value === 'Ajuste al 2021-08-03' ? 3.6 : datum.value === 'Promedio 7 días' ? 3.4 : datum.value === 'Ajuste al 2021-07-27' ? 2.4 : datum.value === 'Ajuste al 2021-07-20' ? 1.4 : 2.2"},
                  "strokeDash": {"signal": "(datum.value === 'Cambio de escenario' || datum.value === '27/7/2021') ? [2, 3] : []"},
                  "opacity": {"value": 1}
                }}}}}
          }
        },
        {
          "data": {"name": "promedio"},
          "mark": {"type": "line", "strokeWidth": 3, "clip": true},
          "encoding": {
            "x": {"field": "fecha", "type": "temporal",
              "scale": {"type": "utc", "domain": [{"year":2021,"month":2,"date":13,"utc":true},{"year":2021,"month":8,"date":9,"utc":true}]},
              "axis": {"title": null, "grid": true, "zindex": 1, "labelAngle": 270, "labelPadding": 4, "labelOverlap": false, "labelFlush": false,
                "values": [{"year":2021,"month":2,"date":13,"utc":true},{"year":2021,"month":2,"date":20,"utc":true},{"year":2021,"month":2,"date":27,"utc":true},{"year":2021,"month":3,"date":1,"utc":true},{"year":2021,"month":3,"date":6,"utc":true},{"year":2021,"month":3,"date":13,"utc":true},{"year":2021,"month":3,"date":20,"utc":true},{"year":2021,"month":3,"date":27,"utc":true},{"year":2021,"month":4,"date":1,"utc":true},{"year":2021,"month":4,"date":3,"utc":true},{"year":2021,"month":4,"date":10,"utc":true},{"year":2021,"month":4,"date":17,"utc":true},{"year":2021,"month":4,"date":24,"utc":true},{"year":2021,"month":5,"date":1,"utc":true},{"year":2021,"month":5,"date":8,"utc":true},{"year":2021,"month":5,"date":15,"utc":true},{"year":2021,"month":5,"date":22,"utc":true},{"year":2021,"month":5,"date":29,"utc":true},{"year":2021,"month":6,"date":1,"utc":true},{"year":2021,"month":6,"date":5,"utc":true},{"year":2021,"month":6,"date":12,"utc":true},{"year":2021,"month":6,"date":19,"utc":true},{"year":2021,"month":6,"date":26,"utc":true},{"year":2021,"month":7,"date":1,"utc":true},{"year":2021,"month":7,"date":3,"utc":true},{"year":2021,"month":7,"date":10,"utc":true},{"year":2021,"month":7,"date":17,"utc":true},{"year":2021,"month":7,"date":24,"utc":true},{"year":2021,"month":7,"date":31,"utc":true},{"year":2021,"month":8,"date":1,"utc":true},{"year":2021,"month":8,"date":7,"utc":true}],
                "labelExpr": "utcdate(datum.value) === 1 ? utcFormat(datum.value, '%Y-%m') : ''",
                "tickSize": {"condition": {"test": "utcdate(datum.value) === 1", "value": 6}, "value": 3.5},
                "gridOpacity": {"condition": {"test": "utcday(datum.value) !== 6", "value": 0}, "value": 1}
              }},
            "y": {"field": "valor", "type": "quantitative", "scale": {"domain": [0, 9604], "nice": false},
              "axis": {"title": "Número de Casos Nuevos Diarios", "values": [0,2000,4000,6000,8000], "format": "d", "grid": true, "zindex": 1, "tickSize": 6, "labelPadding": 5, "titlePadding": 9}},
            "color": {"datum": "Promedio 7 días", "type": "nominal",
              "scale": {"domain": ["Ajuste al 2021-07-20","Ajuste al 2021-07-27","Ajuste al 2021-08-03","Cambio de escenario","27/7/2021","Promedio 7 días","datos"],
                        "range": ["#3a3ae6","#800080","#ff0000","#008080","#ffa500","#191970","#1f77b4"]},
              "legend": {"title": null, "orient": "none", "legendX": 8, "legendY": 8,
                "encode": {"symbols": {"update": {
                  "shape": {"signal": "datum.value === 'datos' ? 'M-0.65,-0.55H2.55V0.55H-0.65Z' : 'M-0.65,0H2.55'"},
                  "fill": {"signal": "datum.value === 'datos' ? '#1f77b4' : 'transparent'"},
                  "stroke": {"signal": "datum.value === 'datos' ? 'transparent' : scale('color', datum.value)"},
                  "strokeWidth": {"signal": "datum.value === 'Ajuste al 2021-08-03' ? 3.6 : datum.value === 'Promedio 7 días' ? 3.4 : datum.value === 'Ajuste al 2021-07-27' ? 2.4 : datum.value === 'Ajuste al 2021-07-20' ? 1.4 : 2.2"},
                  "strokeDash": {"signal": "(datum.value === 'Cambio de escenario' || datum.value === '27/7/2021') ? [2, 3] : []"},
                  "opacity": {"value": 1}
                }}}}}
          }
        }
      ]
    },
    {
      "data": {"values": [{}]},
      "mark": {"type": "rule", "opacity": 0},
      "encoding": {
        "y": {"datum": 0, "type": "quantitative", "scale": {"domain": [0, 49.5], "nice": false},
          "axis": {"orient": "right", "title": "Casos nuevos cada cien mil habitantes", "values": [0,10,20,30,40], "grid": false, "tickSize": 6, "labelPadding": 6, "titleAngle": 270, "titleBaseline": "top", "titlePadding": 4}}
      }
    }
  ],
  "resolve": {"scale": {"y": "independent"}}
}
